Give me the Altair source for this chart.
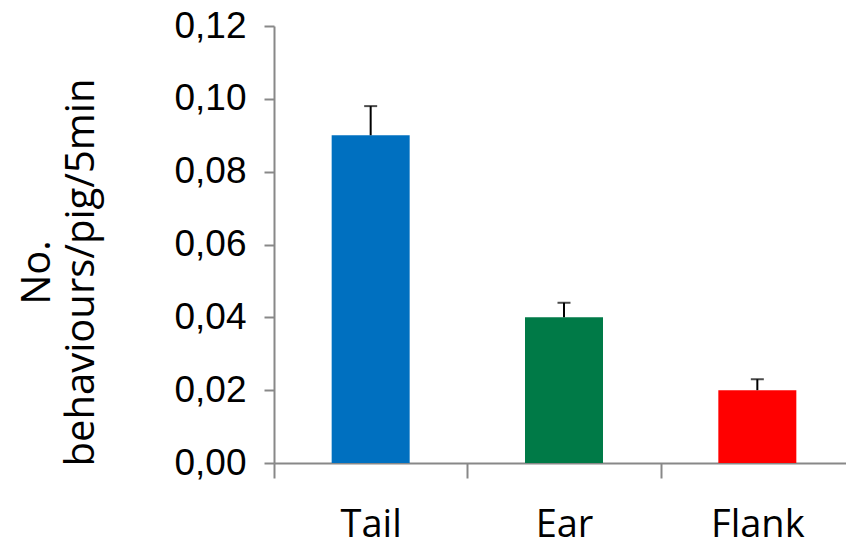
import altair as alt
import pandas as pd

categories = ["Tail", "Ear", "Flank"]
values = [0.090, 0.040, 0.020]
upper = [0.098, 0.044, 0.023]
colors = ["#0070C0", "#007A47", "#FF0000"]
y_ticks = [0.0, 0.02, 0.04, 0.06, 0.08, 0.10, 0.12]

df = pd.DataFrame({"cat": categories, "value": values, "upper": upper})

x_scale = alt.Scale(range=[0, 580], paddingInner=0, paddingOuter=0)
x_enc = alt.X("cat:N", sort=categories, scale=x_scale,
              axis=alt.Axis(title=None, labelAngle=0, tickBand="extent",
                            labelFont="Open Sans", labelFontSize=38,
                            labelPadding=28, labelColor="#000000",
                            domainColor="#888888", domainWidth=2,
                            tickColor="#888888", tickWidth=2, tickSize=15))
y_scale = alt.Scale(domain=[0, 0.12], nice=False, zero=True)
y_axis = alt.Axis(values=y_ticks, grid=False,
                  labelExpr="replace(format(datum.value, '.2f'), '.', ',')",
                  labelFont="Liberation Sans", labelFontSize=37, labelColor="#000000",
                  labelPadding=18, domainColor="#888888", domainWidth=2,
                  tickColor="#888888", tickWidth=2, tickSize=10,
                  title=["No.", "behaviours/pig/5min"], titleFont="Open Sans",
                  titleFontSize=40, titleFontWeight="normal", titleLineHeight=44,
                  titleAngle=-90, titleAlign="center", titleBaseline="alphabetic",
                  titleX=-225, titleY=246, titleColor="#000000")

bars = alt.Chart(df).mark_bar(size=78).encode(
    x=x_enc,
    y=alt.Y("value:Q", scale=y_scale, axis=y_axis),
    color=alt.Color("cat:N", sort=categories,
                    scale=alt.Scale(domain=categories, range=colors), legend=None),
)
err = alt.Chart(df).mark_rule(color="black", strokeWidth=2).encode(
    x=alt.X("cat:N", sort=categories),
    y="value:Q", y2="upper:Q",
)
cap = alt.Chart(df).mark_tick(color="black", thickness=2, size=13).encode(
    x=alt.X("cat:N", sort=categories),
    y="upper:Q",
)

chart = alt.layer(bars, err, cap).properties(
    width=572, height=437,
    autosize=alt.AutoSizeParams(type="none"),
    padding={"left": 274, "top": 26, "right": 0, "bottom": 80},
    background="white",
).configure_view(stroke=None)

chart.save("out.html", embed_options={"renderer": "svg", "actions": False})
